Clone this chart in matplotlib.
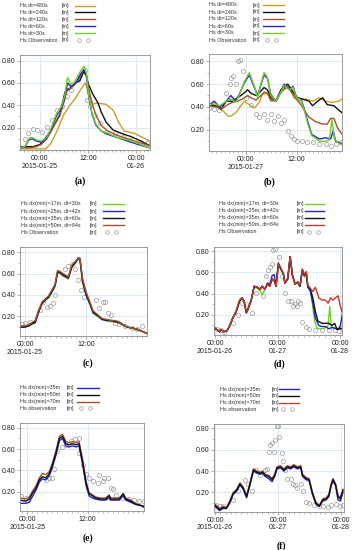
import matplotlib
matplotlib.use('Agg')
import matplotlib.pyplot as plt
from matplotlib.ticker import MultipleLocator

plt.rcParams['font.family'] = ['Liberation Sans', 'DejaVu Sans']

# ---------------- data (hours from the first labelled 00:00 tick) ----------------
# (a) time step test, 2015-01-25
a_t_480 = [-4.9, 1.5, 2.8, 4.3, 5.9, 7.5, 8.8, 10.0, 11.3, 12.3, 13.2, 14.2, 16.4, 18.2, 19.6, 21.0, 23.5, 25.7, 27.3]
a_v_480 = [0.01, 0.01, 0.06, 0.17, 0.31, 0.40, 0.46, 0.53, 0.60, 0.49, 0.41, 0.42, 0.41, 0.36, 0.25, 0.17, 0.15, 0.11, 0.08]
a_t_240 = [-4.9, -1.6, 0.1, 1.7, 3.4, 5.0, 6.3, 7.5, 8.8, 10.0, 10.9, 11.5, 12.1, 13.2, 14.5, 15.3, 16.5, 18.2, 20.2, 22.7, 25.2, 27.3]
a_v_240 = [0.03, 0.03, 0.05, 0.12, 0.21, 0.31, 0.52, 0.55, 0.60, 0.62, 0.70, 0.67, 0.59, 0.50, 0.42, 0.34, 0.25, 0.18, 0.15, 0.12, 0.08, 0.04]
a_t_120 = [-4.9, -2.5, -0.8, 0.4, 1.7, 2.9, 4.1, 5.4, 6.2, 6.9, 7.7, 8.5, 9.3, 10.2, 11.0, 11.6, 12.1, 13.0, 14.0, 15.3, 16.9, 19.4, 21.9, 24.4, 27.3]
a_v_120 = [0.02, 0.02, 0.03, 0.05, 0.10, 0.17, 0.26, 0.35, 0.45, 0.55, 0.55, 0.58, 0.61, 0.67, 0.72, 0.68, 0.56, 0.42, 0.31, 0.22, 0.17, 0.13, 0.10, 0.07, 0.04]
a_t_60 = [-4.9, -3.7, -2.7, -1.9, -0.8, 0.4, 1.7, 2.9, 4.1, 5.4, 6.2, 6.9, 7.7, 8.5, 9.3, 10.2, 11.0, 11.6, 12.1, 13.0, 14.0, 15.3, 16.9, 19.4, 21.9, 24.4, 27.3]
a_v_60 = [0.02, 0.03, 0.09, 0.10, 0.08, 0.07, 0.10, 0.19, 0.30, 0.38, 0.46, 0.60, 0.57, 0.58, 0.62, 0.68, 0.72, 0.67, 0.50, 0.32, 0.22, 0.17, 0.14, 0.11, 0.08, 0.05, 0.02]
a_t_30 = [-4.9, -3.7, -2.5, -1.7, -0.8, 0.4, 1.7, 2.9, 4.1, 5.4, 6.2, 6.9, 7.7, 8.5, 9.3, 10.2, 11.0, 11.6, 12.1, 13.0, 14.0, 15.3, 16.9, 19.4, 21.9, 24.4, 27.3]
a_v_30 = [0.02, 0.03, 0.11, 0.11, 0.09, 0.08, 0.11, 0.20, 0.32, 0.39, 0.48, 0.65, 0.59, 0.60, 0.65, 0.71, 0.75, 0.69, 0.51, 0.33, 0.23, 0.17, 0.15, 0.11, 0.09, 0.06, 0.02]
a_obs_t = [-3.6, -2.8, -1.6, -0.7, 0.5, 1.7, 3.0, 4.2, 5.5, 6.7, 7.9, 9.2, 10.0, 11.3, 11.8, 12.5, 13.7, 15.0, 16.6, 18.7, 20.8, 22.4, 24.9, 26.6]
a_obs_v = [0.10, 0.15, 0.19, 0.18, 0.16, 0.21, 0.27, 0.36, 0.39, 0.48, 0.54, 0.63, 0.67, 0.72, 0.45, 0.39, 0.31, 0.24, 0.16, 0.15, 0.12, 0.09, 0.07, 0.06]

# (b) time step test, 2015-01-27
b_t_480 = [-8.7, -7.1, -5.5, -4.3, -3.6, -2.4, -1.6, -0.4, 0.8, 2.0, 3.2, 3.9, 5.1, 5.9, 7.5, 8.7, 10.3, 11.4, 12.6, 14.2, 15.8, 17.4, 18.9, 20.5, 22.1, 22.8]
b_v_480 = [0.42, 0.41, 0.37, 0.32, 0.32, 0.35, 0.39, 0.45, 0.42, 0.39, 0.44, 0.51, 0.52, 0.45, 0.47, 0.55, 0.57, 0.48, 0.45, 0.47, 0.45, 0.48, 0.45, 0.44, 0.45, 0.47]
b_t_240 = [-8.7, -7.1, -5.9, -4.7, -3.2, -2.0, -0.8, 0.4, 1.2, 2.4, 3.6, 4.3, 5.1, 5.9, 7.1, 8.3, 9.9, 11.0, 12.2, 13.4, 15.0, 15.8, 17.0, 18.2, 19.3, 20.9, 22.1, 22.8]
b_v_240 = [0.42, 0.41, 0.38, 0.45, 0.45, 0.48, 0.51, 0.55, 0.52, 0.50, 0.54, 0.57, 0.55, 0.48, 0.45, 0.55, 0.60, 0.54, 0.48, 0.47, 0.45, 0.41, 0.45, 0.48, 0.42, 0.41, 0.37, 0.35]
b_t_120 = [-8.7, -7.1, -5.5, -4.3, -3.2, -2.0, -0.8, 0.4, 1.2, 2.4, 3.6, 4.3, 5.1, 5.9, 7.1, 8.3, 9.9, 11.0, 12.2, 13.4, 14.2, 15.0, 16.6, 18.2, 19.3, 20.1, 20.9, 21.7, 22.8]
b_v_120 = [0.41, 0.40, 0.39, 0.42, 0.44, 0.45, 0.47, 0.50, 0.48, 0.46, 0.50, 0.53, 0.52, 0.46, 0.45, 0.53, 0.58, 0.52, 0.46, 0.40, 0.35, 0.31, 0.27, 0.25, 0.25, 0.30, 0.30, 0.22, 0.16]
b_t_60 = [-8.7, -7.5, -6.3, -5.1, -3.6, -2.4, -1.6, -0.4, 0.8, 2.0, 2.8, 3.6, 4.3, 5.1, 5.9, 7.1, 8.3, 9.1, 10.3, 11.2, 12.0, 13.0, 13.8, 14.6, 15.6, 17.4, 18.9, 20.1, 20.7, 21.3, 22.1, 22.8]
b_v_60 = [0.42, 0.45, 0.40, 0.43, 0.50, 0.45, 0.51, 0.61, 0.68, 0.57, 0.50, 0.60, 0.68, 0.65, 0.51, 0.45, 0.54, 0.60, 0.55, 0.58, 0.48, 0.47, 0.39, 0.28, 0.16, 0.12, 0.13, 0.12, 0.19, 0.10, 0.09, 0.08]
b_t_30 = [-8.7, -7.5, -6.3, -5.1, -3.6, -2.4, -1.6, -0.4, 0.8, 2.0, 2.8, 3.6, 4.3, 5.1, 5.9, 7.1, 8.3, 9.1, 10.3, 11.2, 12.0, 13.0, 13.8, 14.6, 15.6, 17.4, 18.9, 19.8, 20.4, 21.0, 22.1, 22.8]
b_v_30 = [0.42, 0.43, 0.41, 0.44, 0.47, 0.44, 0.50, 0.62, 0.70, 0.58, 0.48, 0.61, 0.70, 0.66, 0.50, 0.45, 0.53, 0.59, 0.55, 0.57, 0.48, 0.46, 0.38, 0.26, 0.15, 0.10, 0.10, 0.11, 0.29, 0.12, 0.08, 0.07]
b_obs_t = [-8.7, -7.5, -6.3, -4.7, -3.9, -3.6, -3.0, -2.4, -2.0, -1.4, -0.8, 0.0, 1.2, 2.4, 3.2, 4.3, 4.9, 5.9, 6.7, 7.5, 8.3, 9.1, 9.9, 10.7, 11.4, 12.2, 13.4, 14.6, 15.8, 17.4, 18.9, 20.1, 21.3, 22.5]
b_obs_v = [0.39, 0.38, 0.37, 0.52, 0.60, 0.65, 0.67, 0.60, 0.80, 0.81, 0.71, 0.48, 0.42, 0.34, 0.31, 0.34, 0.29, 0.34, 0.28, 0.32, 0.26, 0.29, 0.19, 0.15, 0.12, 0.10, 0.10, 0.09, 0.09, 0.08, 0.08, 0.06, 0.08, 0.09]

# (c) grid resolution test, 2015-01-25
c_t = [-1.0, 0.0, 0.7, 1.3, 2.0, 2.6, 3.3, 3.9, 4.6, 5.2, 5.9, 6.4, 6.9, 7.5, 8.5, 9.2, 9.8, 10.5, 10.8, 11.3,
       12.0, 12.8, 13.4, 14.2, 15.1, 16.1, 17.0, 17.7, 18.4, 19.0, 20.0, 21.0, 22.0, 23.0, 23.9]
c_v_17 = [0.10, 0.10, 0.11, 0.12, 0.14, 0.23, 0.31, 0.35, 0.37, 0.42, 0.48, 0.61, 0.60, 0.58, 0.55, 0.66, 0.69, 0.74, 0.73, 0.52,
          0.40, 0.31, 0.23, 0.20, 0.17, 0.16, 0.15, 0.15, 0.14, 0.12, 0.10, 0.09, 0.07, 0.06, 0.04]
c_v_25 = [0.10, 0.10, 0.11, 0.13, 0.14, 0.23, 0.32, 0.35, 0.38, 0.42, 0.49, 0.61, 0.61, 0.58, 0.56, 0.66, 0.70, 0.74, 0.74, 0.53,
          0.40, 0.31, 0.23, 0.21, 0.17, 0.16, 0.16, 0.15, 0.14, 0.13, 0.10, 0.09, 0.08, 0.06, 0.04]
c_v_35 = [0.10, 0.10, 0.11, 0.13, 0.15, 0.24, 0.32, 0.35, 0.38, 0.43, 0.49, 0.62, 0.61, 0.59, 0.56, 0.67, 0.70, 0.75, 0.74, 0.54,
          0.41, 0.32, 0.24, 0.21, 0.18, 0.16, 0.16, 0.15, 0.15, 0.13, 0.10, 0.09, 0.08, 0.06, 0.04]
c_v_50 = [0.11, 0.11, 0.12, 0.14, 0.16, 0.25, 0.33, 0.36, 0.39, 0.44, 0.50, 0.63, 0.62, 0.60, 0.57, 0.68, 0.71, 0.75, 0.74, 0.56,
          0.43, 0.33, 0.25, 0.22, 0.18, 0.17, 0.16, 0.16, 0.15, 0.13, 0.10, 0.09, 0.08, 0.06, 0.04]
c_obs_t = [-0.7, 0.0, 1.0, 3.0, 3.5, 4.3, 4.9, 5.4, 5.9, 7.9, 8.5, 9.2, 9.8, 10.5, 11.0, 11.5, 14.0, 14.6, 15.3, 15.8,
           16.4, 16.9, 17.7, 18.4, 19.7, 21.0, 22.0, 23.0]
c_obs_v = [0.13, 0.14, 0.15, 0.26, 0.33, 0.29, 0.30, 0.32, 0.40, 0.64, 0.67, 0.69, 0.64, 0.54, 0.45, 0.38, 0.35, 0.28, 0.33, 0.33,
           0.23, 0.21, 0.14, 0.13, 0.11, 0.09, 0.08, 0.11]

# (d) grid resolution test, 2015-01-26 .. 01-28
d_t_30 = [0.0, 0.8, 1.7, 2.3, 3.4, 4.6, 5.5, 6.8, 8.1, 9.4, 10.3, 11.1, 12.0, 12.6, 13.9, 15.0, 16.3, 17.2, 18.1, 19.1,
          20.1, 21.0, 21.9, 22.7, 23.4, 24.3, 25.3, 26.2, 26.8, 27.9, 28.8, 29.7, 30.7, 31.7, 32.6, 33.5, 34.3, 35.0, 35.6, 36.6,
          37.2, 38.2, 39.2, 41.2, 42.5, 43.4, 44.0, 44.6, 46.8, 48.8]
d_v_30 = [0.07, 0.06, 0.04, 0.06, 0.04, 0.05, 0.09, 0.17, 0.23, 0.33, 0.36, 0.33, 0.22, 0.25, 0.34, 0.46, 0.45, 0.43, 0.39, 0.44,
          0.49, 0.47, 0.53, 0.52, 0.47, 0.67, 0.63, 0.58, 0.50, 0.54, 0.74, 0.57, 0.49, 0.50, 0.47, 0.61, 0.56, 0.55, 0.47, 0.44,
          0.33, 0.14, 0.07, 0.07, 0.08, 0.10, 0.28, 0.09, 0.07, 0.09]
d_t_42 = [0.0, 0.8, 1.7, 2.3, 3.4, 4.6, 5.5, 6.8, 8.1, 9.4, 10.3, 11.1, 12.0, 12.6, 13.9, 15.0, 16.3, 17.2, 18.1, 19.1,
          20.1, 21.0, 21.9, 22.7, 23.4, 24.3, 25.3, 26.2, 26.8, 27.9, 28.8, 29.7, 30.7, 31.7, 32.6, 33.5, 34.3, 35.0, 35.6, 36.6,
          37.5, 38.5, 39.8, 41.0, 42.3, 43.6, 44.9, 46.2, 47.5, 48.1, 48.8]
d_v_42 = [0.07, 0.06, 0.04, 0.06, 0.04, 0.05, 0.09, 0.17, 0.23, 0.33, 0.36, 0.33, 0.22, 0.25, 0.34, 0.47, 0.46, 0.44, 0.47, 0.44,
          0.50, 0.49, 0.57, 0.58, 0.47, 0.69, 0.63, 0.59, 0.50, 0.54, 0.75, 0.57, 0.49, 0.51, 0.47, 0.62, 0.57, 0.60, 0.46, 0.42,
          0.31, 0.17, 0.10, 0.09, 0.09, 0.07, 0.08, 0.07, 0.07, 0.10, 0.20]
d_t_60 = [0.0, 0.8, 1.7, 2.3, 3.4, 4.6, 5.5, 6.8, 8.1, 9.4, 10.3, 11.1, 12.0, 12.6, 13.9, 15.0, 16.3, 17.2, 18.1, 19.1,
          20.1, 21.0, 21.9, 22.7, 23.4, 24.3, 25.3, 26.2, 26.8, 27.9, 28.8, 29.7, 30.7, 31.7, 32.6, 33.5, 34.3, 35.0, 35.6, 36.6,
          37.5, 38.5, 39.5, 41.0, 42.3, 43.6, 44.9, 45.9, 46.8, 48.1, 48.8]
d_v_60 = [0.07, 0.06, 0.04, 0.06, 0.04, 0.05, 0.09, 0.17, 0.23, 0.33, 0.36, 0.33, 0.22, 0.25, 0.34, 0.47, 0.46, 0.44, 0.47, 0.44,
          0.49, 0.47, 0.54, 0.52, 0.47, 0.68, 0.63, 0.59, 0.50, 0.54, 0.75, 0.57, 0.49, 0.51, 0.47, 0.63, 0.57, 0.60, 0.47, 0.44,
          0.36, 0.23, 0.14, 0.12, 0.12, 0.12, 0.10, 0.12, 0.06, 0.07, 0.07]
d_t_84 = [0.0, 0.8, 1.7, 2.3, 3.4, 4.6, 5.5, 6.8, 8.1, 9.4, 10.3, 11.1, 12.0, 12.6, 13.9, 15.0, 16.3, 17.2, 18.1, 19.1,
          20.1, 21.0, 21.9, 22.7, 23.4, 24.3, 25.3, 26.2, 26.8, 27.9, 28.8, 29.7, 30.7, 31.7, 32.6, 33.5, 34.3, 35.0, 35.6, 36.6,
          37.5, 38.5, 39.8, 41.0, 42.3, 43.4, 44.3, 45.2, 46.2, 47.2, 48.1, 48.8]
d_v_84 = [0.08, 0.06, 0.04, 0.06, 0.04, 0.05, 0.09, 0.17, 0.24, 0.34, 0.36, 0.33, 0.22, 0.25, 0.34, 0.47, 0.46, 0.44, 0.47, 0.44,
          0.49, 0.47, 0.54, 0.52, 0.47, 0.68, 0.64, 0.59, 0.50, 0.55, 0.75, 0.58, 0.49, 0.51, 0.48, 0.63, 0.58, 0.61, 0.48, 0.45,
          0.42, 0.46, 0.36, 0.34, 0.34, 0.31, 0.36, 0.34, 0.36, 0.38, 0.28, 0.22]
d_obs_t = [0.8, 2.1, 3.6, 6.8, 8.8, 10.3, 12.0, 14.2, 15.9, 18.5, 19.7, 20.4, 21.0, 21.7, 22.3, 23.0, 24.5, 25.8, 26.8, 28.1,
           29.2, 29.8, 30.5, 31.4, 32.0, 32.6, 33.5, 34.8, 35.9, 38.5, 41.0, 43.6, 46.2, 47.5]
d_obs_v = [0.07, 0.06, 0.04, 0.12, 0.20, 0.31, 0.30, 0.22, 0.41, 0.38, 0.57, 0.62, 0.65, 0.68, 0.81, 0.82, 0.75, 0.57, 0.41, 0.33,
           0.33, 0.28, 0.30, 0.28, 0.33, 0.31, 0.13, 0.09, 0.07, 0.06, 0.06, 0.06, 0.06, 0.05]

# (e) resolution test, 2015-01-25
e_t = [-1.45, -0.3, 0.4, 1.1, 1.7, 2.4, 3.0, 3.7, 4.4, 5.0, 5.7, 6.4, 7.0, 7.7, 8.3, 9.0, 9.7, 10.3, 11.0, 11.7,
       12.3, 13.0, 13.6, 14.6, 15.6, 16.3, 16.6, 17.3, 18.3, 19.1, 19.6, 20.6, 21.6, 22.6, 23.3]
e_v_35 = [0.09, 0.09, 0.10, 0.16, 0.21, 0.29, 0.32, 0.31, 0.35, 0.43, 0.54, 0.68, 0.70, 0.63, 0.62, 0.63, 0.62, 0.63, 0.46, 0.26,
          0.16, 0.14, 0.13, 0.12, 0.12, 0.14, 0.12, 0.12, 0.12, 0.16, 0.12, 0.10, 0.08, 0.07, 0.05]
e_v_50 = [0.12, 0.11, 0.13, 0.19, 0.23, 0.31, 0.34, 0.33, 0.37, 0.45, 0.56, 0.70, 0.72, 0.65, 0.64, 0.65, 0.64, 0.65, 0.48, 0.28,
          0.18, 0.16, 0.14, 0.13, 0.13, 0.16, 0.13, 0.13, 0.13, 0.18, 0.13, 0.11, 0.08, 0.07, 0.06]
e_v_70 = [0.14, 0.13, 0.15, 0.21, 0.25, 0.33, 0.37, 0.36, 0.39, 0.47, 0.58, 0.72, 0.74, 0.67, 0.66, 0.67, 0.66, 0.67, 0.51, 0.30,
          0.19, 0.17, 0.15, 0.14, 0.14, 0.17, 0.14, 0.14, 0.14, 0.18, 0.14, 0.12, 0.09, 0.07, 0.06]
e_obs_t = [-1.26, -0.26, 3.7, 4.4, 4.9, 5.4, 6.0, 7.0, 7.7, 8.7, 9.5, 10.2, 10.3, 11.0, 11.7, 12.3, 13.1, 14.0, 14.3, 15.0,
           15.3, 16.0, 16.6, 17.1, 17.6, 18.9, 20.3, 21.3, 22.3, 23.2]
e_obs_v = [0.16, 0.14, 0.31, 0.33, 0.33, 0.41, 0.58, 0.62, 0.64, 0.68, 0.69, 0.70, 0.56, 0.45, 0.37, 0.33, 0.30, 0.28, 0.36, 0.30,
           0.33, 0.33, 0.23, 0.22, 0.17, 0.14, 0.13, 0.12, 0.11, 0.11]

# (f) resolution test, 2015-01-26 .. 01-28
f_t = [0.0, 1.7, 3.0, 4.3, 5.6, 6.9, 8.2, 9.5, 10.7, 12.0, 13.3, 14.6, 15.9, 17.2, 18.1, 19.1, 20.4, 21.7, 22.7, 23.6,
       24.9, 26.2, 27.5, 28.8, 30.0, 31.3, 32.6, 33.3, 34.6, 35.8, 37.1, 38.4, 39.7, 41.0, 42.3, 43.3, 44.2, 44.9, 45.9, 46.8,
       47.7, 48.7]
f_v_35 = [0.07, 0.03, 0.05, 0.05, 0.10, 0.18, 0.21, 0.27, 0.23, 0.15, 0.27, 0.40, 0.38, 0.37, 0.38, 0.35, 0.33, 0.30, 0.35, 0.42,
          0.43, 0.40, 0.43, 0.42, 0.44, 0.42, 0.43, 0.35, 0.32, 0.31, 0.18, 0.09, 0.07, 0.12, 0.13, 0.16, 0.26, 0.31, 0.26, 0.13,
          0.12, 0.20]
f_v_50 = [0.08, 0.04, 0.06, 0.05, 0.11, 0.19, 0.22, 0.28, 0.24, 0.16, 0.28, 0.41, 0.39, 0.38, 0.39, 0.36, 0.35, 0.32, 0.36, 0.43,
          0.44, 0.41, 0.44, 0.43, 0.45, 0.43, 0.44, 0.36, 0.33, 0.32, 0.19, 0.10, 0.07, 0.13, 0.14, 0.17, 0.27, 0.32, 0.27, 0.16,
          0.14, 0.22]
f_v_70 = [0.09, 0.05, 0.07, 0.06, 0.12, 0.20, 0.23, 0.29, 0.25, 0.17, 0.29, 0.42, 0.40, 0.39, 0.40, 0.37, 0.36, 0.33, 0.37, 0.44,
          0.45, 0.42, 0.45, 0.44, 0.46, 0.44, 0.45, 0.37, 0.34, 0.33, 0.20, 0.11, 0.08, 0.14, 0.15, 0.18, 0.28, 0.33, 0.28, 0.17,
          0.15, 0.23]
f_obs_t = [0.45, 1.7, 3.0, 6.9, 8.8, 11.4, 12.7, 14.0, 15.5, 17.2, 18.9, 19.8, 20.7, 21.0, 21.7, 22.3, 22.7, 23.4, 24.0, 24.5,
           25.3, 25.8, 26.8, 27.5, 28.8, 29.7, 30.4, 31.3, 32.6, 33.5, 34.6, 35.8, 37.7, 39.7, 41.0, 42.9, 44.2, 46.2, 47.4, 48.7]
f_obs_v = [0.08, 0.07, 0.07, 0.13, 0.21, 0.32, 0.28, 0.21, 0.41, 0.36, 0.41, 0.42, 0.58, 0.64, 0.66, 0.58, 0.69, 0.82, 0.82, 0.72,
           0.57, 0.49, 0.41, 0.33, 0.33, 0.28, 0.27, 0.24, 0.28, 0.21, 0.11, 0.10, 0.08, 0.07, 0.07, 0.06, 0.08, 0.09, 0.07, 0.08]

y_ticks = [0.2, 0.4, 0.6, 0.8]
y_labels = ['0.20', '0.40', '0.60', '0.80']

# ---------------- styles ----------------
GOLD = '#c4a12a'
BLACK = '#111111'
BROWN = '#a5522a'
BLUE = '#2424c8'
GREEN = '#6fcf2a'
RED = '#c0392b'
OBS = '#9a9a9a'

W, H = 352, 550
fig = plt.figure(figsize=(W / 100, H / 100), dpi=100)
over = fig.add_axes([0, 0, 1, 1])
over.set_xlim(0, W)
over.set_ylim(H, 0)
over.axis('off')


def make_axes(box, xlim, ylim, ticks, labels, minor):
    x0, y0, x1, y1 = box
    ax = fig.add_axes([x0 / W, 1 - y1 / H, (x1 - x0) / W, (y1 - y0) / H])
    ax.set_xlim(*xlim)
    ax.set_ylim(*ylim)
    ax.set_xticks(ticks)
    ax.set_xticklabels(labels, linespacing=1.15)
    ax.xaxis.set_minor_locator(MultipleLocator(minor))
    ax.set_yticks(y_ticks)
    ax.set_yticklabels(y_labels)
    ax.yaxis.set_minor_locator(MultipleLocator(0.1))
    ax.grid(True, which='major', color='#d6e6f5', lw=0.6)
    ax.set_axisbelow(True)
    for s in ax.spines.values():
        s.set_color('#8c8c8c')
        s.set_linewidth(0.6)
    ax.tick_params(labelsize=5, length=2, width=0.5, pad=1.5, color='#8c8c8c', labelcolor='#222222')
    ax.tick_params(which='minor', length=1.3, width=0.4, color='#8c8c8c')
    return ax


def draw(ax, t, v, color):
    ax.plot(t, v, color=color, lw=1.0, solid_joinstyle='round')


def obs(ax, t, v):
    ax.plot(t, v, 'o', mfc='none', mec=OBS, ms=3.0, mew=0.5)


def legend(rows, x_text, x_unit, x_l0, x_l1, y_first, dy):
    for i, (label, color) in enumerate(rows):
        y = y_first + i * dy
        over.text(x_text, y, label, fontsize=3.9, va='center', ha='left', color='#333333')
        over.text(x_unit, y, '[m]', fontsize=3.9, va='center', ha='left', color='#333333')
        if color is None:
            over.plot([x_l0 + 4, x_l0 + 13], [y, y], 'o', mfc='none', mec=OBS, ms=2.6, mew=0.5)
        else:
            over.plot([x_l0, x_l1], [y, y], color=color, lw=1.0)


def caption(x, y, s):
    over.text(x, y, s, fontsize=7, ha='center', va='center', family='Liberation Serif', weight='bold')


# (a)
ax = make_axes((20, 55, 149.5, 150), (-4.9, 27.3), (0.0, 0.85), [0, 12, 24],
               ['00:00\n2015-01-25', '12:00', '00:00\n01-26'], 1)
obs(ax, a_obs_t, a_obs_v)
draw(ax, a_t_480, a_v_480, GOLD)
draw(ax, a_t_240, a_v_240, BLACK)
draw(ax, a_t_120, a_v_120, BROWN)
draw(ax, a_t_60, a_v_60, BLUE)
draw(ax, a_t_30, a_v_30, GREEN)
legend([('Hs dt=480s', GOLD), ('Hs dt=240s', BLACK), ('Hs dt=120s', BROWN),
        ('Hs dt=60s', BLUE), ('Hs dt=30s', GREEN), ('Hs Observation', None)],
       20, 62, 75, 95, 5.5, 6.9)
caption(80.7, 181.5, '(a)')

# (b)
ax = make_axes((209.3, 54.3, 342, 151), (-8.7, 22.8), (0.015, 0.86), [0, 12],
               ['00:00\n2015-01-27', '12:00'], 1)
obs(ax, b_obs_t, b_obs_v)
draw(ax, b_t_480, b_v_480, GOLD)
draw(ax, b_t_240, b_v_240, BLACK)
draw(ax, b_t_120, b_v_120, BROWN)
draw(ax, b_t_60, b_v_60, BLUE)
draw(ax, b_t_30, b_v_30, GREEN)
legend([('Hs dt=480s', GOLD), ('Hs dt=240s', BLACK), ('Hs dt=120s', BROWN),
        ('Hs dt=60s', BLUE), ('Hs dt=30s', GREEN), ('Hs Observation', None)],
       209, 253, 263, 284, 5.0, 7.0)
caption(269.3, 182.5, '(b)')

# (c)
ax = make_axes((20, 247, 146.5, 336), (-1.0, 23.9), (0.015, 0.85), [0, 12],
               ['00:00\n2015-01-25', '12:00'], 1)
obs(ax, c_obs_t, c_obs_v)
draw(ax, c_t, c_v_17, GREEN)
draw(ax, c_t, c_v_25, BLUE)
draw(ax, c_t, c_v_35, BLACK)
draw(ax, c_t, c_v_50, BROWN)
legend([('Hs dx(min)=17m, dt=30s', GREEN), ('Hs dx(min)=25m, dt=42s', BLUE),
        ('Hs dx(min)=35m, dt=60s', BLACK), ('Hs dx(min)=50m, dt=84s', BROWN),
        ('Hs Observation', None)],
       20.7, 90, 102.5, 123.5, 204, 7.1)
caption(88.3, 363.3, '(c)')

# (d)
ax = make_axes((214, 247, 342.5, 335), (-0.4, 48.9), (0.01, 0.84), [0, 24, 48],
               ['00:00\n2015-01-26', '00:00\n01-27', '00:00\n01-28'], 2)
obs(ax, d_obs_t, d_obs_v)
draw(ax, d_t_30, d_v_30, GREEN)
draw(ax, d_t_42, d_v_42, BLUE)
draw(ax, d_t_60, d_v_60, BLACK)
draw(ax, d_t_84, d_v_84, RED)
legend([('Hs dx(min)=17m, dt=30s', GREEN), ('Hs dx(min)=25m, dt=42s', BLUE),
        ('Hs dx(min)=35m, dt=60s', BLACK), ('Hs dx(min)=50m, dt=84s', RED),
        ('Hs Observation', None)],
       218.7, 296.5, 305, 324, 204, 6.9)
caption(279.3, 364, '(d)')

# (e)
ax = make_axes((20, 423, 144.3, 511.3), (-1.45, 23.3), (0.015, 0.845), [0, 12],
               ['00:00\n2015-01-25', '12:00'], 1)
obs(ax, e_obs_t, e_obs_v)
draw(ax, e_t, e_v_70, BROWN)
draw(ax, e_t, e_v_35, BLUE)
draw(ax, e_t, e_v_50, BLACK)
legend([('Hs dx(min)=35m', BLUE), ('Hs dx(min)=50m', BLACK), ('Hs dx(min)=70m', BROWN),
        ('Hs observation', None)],
       20, 67, 77, 99, 387.7, 6.9)
caption(88.3, 537.7, '(e)')

# (f)
ax = make_axes((214, 424, 343.5, 511.7), (-0.4, 48.9), (0.02, 0.84), [0, 24, 48],
               ['00:00\n2015-01-26', '00:00\n01-27', '00:00\n01-28'], 2)
obs(ax, f_obs_t, f_obs_v)
draw(ax, f_t, f_v_35, BLUE)
draw(ax, f_t, f_v_70, BROWN)
draw(ax, f_t, f_v_50, BLACK)
legend([('Hs dx(min)=35m', BLUE), ('Hs dx(min)=50m', BLACK), ('Hs dx(min)=70m', BROWN),
        ('Hs observation', None)],
       220, 271.7, 279, 298.7, 389, 6.8)
caption(281, 546.5, '(f)')

fig.savefig('out.png', dpi=100, facecolor='white')
